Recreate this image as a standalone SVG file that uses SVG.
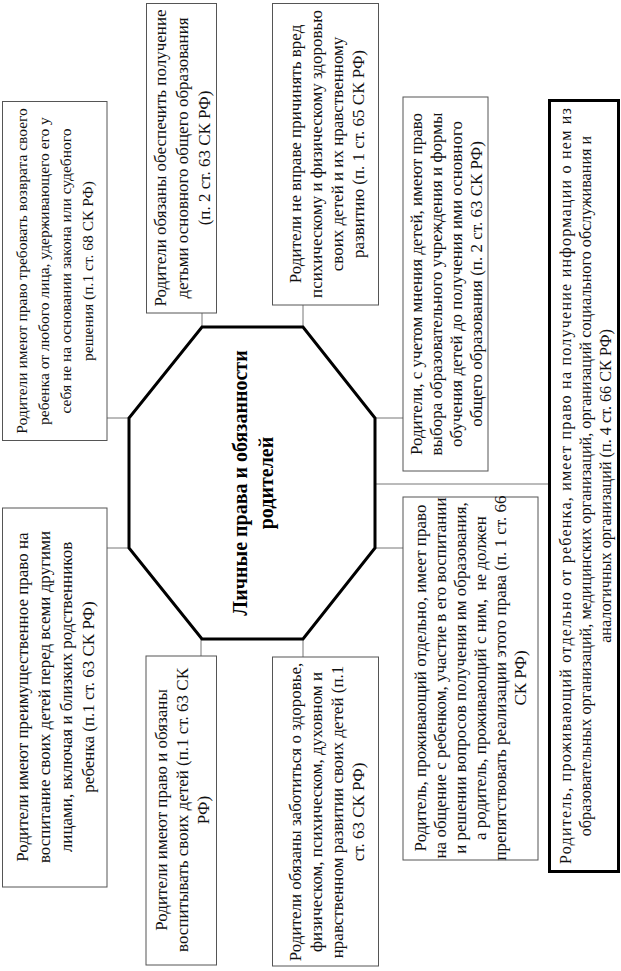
<svg xmlns="http://www.w3.org/2000/svg" width="621" height="971" viewBox="0 0 621 971">
<style>
.box{fill:#fff;stroke:#555;stroke-width:1}
.bold{fill:#fff;stroke:#000;stroke-width:3}
.t{font-family:"Liberation Serif","Times New Roman",serif;font-size:17px;fill:#111;text-anchor:middle}
.s15{font-size:15.5px}
.s16{font-size:16.2px}
.title{font-family:"Liberation Serif","Times New Roman",serif;font-size:20px;font-weight:bold;fill:#000;text-anchor:middle}
.c{stroke:#777;stroke-width:1;fill:none}
</style>
<rect width="621" height="971" fill="#fff"/>
<g id="connectors">
<line class="c" x1="107" y1="418" x2="129" y2="418"/>
<line class="c" x1="202" y1="313" x2="202" y2="327"/>
<line class="c" x1="303" y1="305" x2="303" y2="327"/>
<line class="c" x1="375" y1="418" x2="403" y2="418"/>
<line class="c" x1="375" y1="484" x2="549" y2="484"/>
<line class="c" x1="107" y1="548" x2="129" y2="548"/>
<line class="c" x1="201" y1="639" x2="201" y2="656"/>
<line class="c" x1="303" y1="639" x2="303" y2="657"/>
<line class="c" x1="375" y1="548" x2="403" y2="548"/>
</g>
<g id="center">
<polygon points="202,327 303,327 375,418 375,548 303,639 202,639 129,548 129,418" fill="#fff" stroke="#000" stroke-width="3"/>
<text class="title" transform="translate(252,483) rotate(-90)"><tspan x="0" y="-5">Личные права и обязанности</tspan><tspan x="0" y="21">родителей</tspan></text>
</g>
<g id="n1">
<rect class="box" x="2.5" y="101.5" width="104.5" height="339"/>
<text class="t s15" transform="translate(54.5,271) rotate(-90)"><tspan x="0" y="-28">Родители имеют право требовать возврата своего</tspan><tspan x="0" y="-6">ребенка от любого лица, удерживающего его у</tspan><tspan x="0" y="16">себя не на основании закона или судебного</tspan><tspan x="0" y="38">решения (п.1 ст. 68 СК РФ)</tspan></text>
</g>
<g id="n2">
<rect class="box" x="146.5" y="3.5" width="70" height="309.5"/>
<text class="t" transform="translate(182,158) rotate(-90)"><tspan x="0" y="-16">Родители обязаны обеспечить получение</tspan><tspan x="0" y="6">детьми основного общего образования</tspan><tspan x="0" y="28">(п. 2 ст. 63 СК РФ)</tspan></text>
</g>
<g id="n3">
<rect class="box" x="272.5" y="3.5" width="106" height="301.5"/>
<text class="t" transform="translate(325.5,154) rotate(-90)"><tspan x="0" y="-25">Родители не вправе причинять вред</tspan><tspan x="0" y="-4">психическому и физическому здоровью</tspan><tspan x="0" y="17">своих детей и их нравственному</tspan><tspan x="0" y="38">развитию (п. 1 ст. 65 СК РФ)</tspan></text>
</g>
<g id="n4">
<rect class="box" x="403" y="97" width="85" height="374"/>
<text class="t" transform="translate(445.5,284) rotate(-90)"><tspan x="0" y="-24">Родители, с учетом мнения детей, имеют право</tspan><tspan x="0" y="-4">выбора образовательного учреждения и формы</tspan><tspan x="0" y="16">обучения детей до получения ими основного</tspan><tspan x="0" y="36">общего образования (п. 2 ст. 63 СК РФ)</tspan></text>
</g>
<g id="n5">
<rect class="bold" x="549.5" y="100.5" width="69" height="771"/>
<text class="t s16" transform="translate(585,486) rotate(-90)"><tspan x="0" y="-14" textLength="756" lengthAdjust="spacing">Родитель, проживающий отдельно от ребенка, имеет право на получение информации о нем из</tspan><tspan x="0" y="6">образовательных организаций, медицинских организаций, организаций социального обслуживания и</tspan><tspan x="0" y="26">аналогичных организаций (п. 4 ст. 66 СК РФ)</tspan></text>
</g>
<g id="n6">
<rect class="box" x="2.5" y="508" width="104.5" height="379"/>
<text class="t" transform="translate(54.5,697) rotate(-90)"><tspan x="0" y="-27">Родители имеют преимущественное право на</tspan><tspan x="0" y="-5">воспитание своих детей перед всеми другими</tspan><tspan x="0" y="17">лицами, включая и близких родственников</tspan><tspan x="0" y="39">ребенка (п.1 ст. 63 СК РФ)</tspan></text>
</g>
<g id="n7">
<rect class="box" x="146" y="656" width="70.5" height="309"/>
<text class="t" transform="translate(181.5,810) rotate(-90)"><tspan x="0" y="-15">Родители имеют право и обязаны</tspan><tspan x="0" y="6">воспитывать своих детей (п.1 ст. 63 СК</tspan><tspan x="0" y="27">РФ)</tspan></text>
</g>
<g id="n8">
<rect class="box" x="272.5" y="657" width="106" height="309"/>
<text class="t" transform="translate(325.5,812) rotate(-90)"><tspan x="0" y="-25">Родители обязаны заботиться о здоровье,</tspan><tspan x="0" y="-4">физическом, психическом, духовном и</tspan><tspan x="0" y="17">нравственном развитии своих детей (п.1</tspan><tspan x="0" y="38">ст. 63 СК РФ)</tspan></text>
</g>
<g id="n9">
<rect class="box" x="403" y="497" width="135" height="363"/>
<text class="t" transform="translate(470,678) rotate(-90)"><tspan x="0" y="-44">Родитель, проживающий отдельно, имеет право</tspan><tspan x="0" y="-24">на общение с ребенком, участие в его воспитании</tspan><tspan x="0" y="-4">и решении вопросов получения им образования,</tspan><tspan x="0" y="16" xml:space="preserve">а родитель, проживающий с ним,  не должен</tspan><tspan x="0" y="36">препятствовать реализации этого права (п. 1 ст. 66</tspan><tspan x="0" y="56">СК РФ)</tspan></text>
</g>
</svg>
